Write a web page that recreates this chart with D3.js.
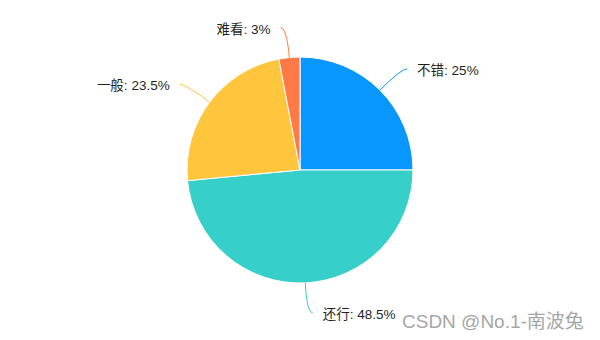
<!DOCTYPE html>
<html>
<head>
<meta charset="utf-8">
<script src="https://cdn.jsdelivr.net/npm/d3@7"></script>
<style>
  body { margin: 0; background: #fff; }
  svg { display: block; }
</style>
</head>
<body>
<div id="piechart"></div>
<script>
var categories = ["不错", "还行", "一般", "难看"]
var values = [25, 48.5, 23.5, 3]
var colors = ["#0797ff", "#36cfc9", "#ffc53d", "#ff7a45"]

var width = 600,
  height = 340,
  radius = 113,
  lineRadius = 143

var color = d3.scaleOrdinal()
  .domain(categories)
  .range(colors)

var pie = d3.pie()
  .sort(null)
  .value(function(d) { return d.value })

var arc = d3.arc()
  .innerRadius(0)
  .outerRadius(radius)

var data = categories.map(function(c, i) { return { name: c, value: values[i] } })

var svg = d3.select("#piechart")
  .append("svg")
  .attr("width", width)
  .attr("height", height)

var g = svg.append("g")
  .attr("transform", "translate(300,170)")

var slices = g.selectAll(".arc")
  .data(pie(data))
  .enter()
  .append("g")
  .attr("class", "arc")

slices.append("path")
  .attr("d", arc)
  .style("fill", function(d) { return color(d.data.name) })
  .style("stroke", "#fff")
  .style("stroke-width", 1)

// point on a circle at the slice's middle angle
function pt(d, r) {
  var a = (d.startAngle + d.endAngle) / 2
  return [r * Math.sin(a), -r * Math.cos(a)]
}
function side(d) {
  return pt(d, 1)[0] >= 0 ? 1 : -1
}

// label lines
slices.append("path")
  .attr("d", function(d) {
    var p0 = pt(d, radius), p1 = pt(d, lineRadius)
    var p2 = [p1[0] + side(d) * 6, p1[1]]
    return "M" + p0 + "Q" + p1 + " " + p2
  })
  .style("fill", "none")
  .style("stroke", function(d) { return color(d.data.name) })
  .style("stroke-width", 1)

slices.append("text")
  .attr("x", function(d) { return pt(d, lineRadius)[0] + side(d) * 16 })
  .attr("y", function(d) { return pt(d, lineRadius)[1] })
  .attr("dy", "0.45em")
  .attr("text-anchor", function(d) { return side(d) > 0 ? "start" : "end" })
  .style("font-family", "Arial, 'Noto Sans CJK SC', sans-serif")
  .style("font-size", "13.5px")
  .style("fill", "#1f1f1f")
  .text(function(d) { return d.data.name + ": " + d.data.value + "%" })

// watermark
svg.append("text")
  .attr("x", 402)
  .attr("y", 328)
  .style("font-family", "Arial, 'Noto Sans CJK SC', sans-serif")
  .style("font-size", "19px")
  .style("fill", "#a6a6a6")
  .text("CSDN @No.1-南波兔")
</script>
</body>
</html>
